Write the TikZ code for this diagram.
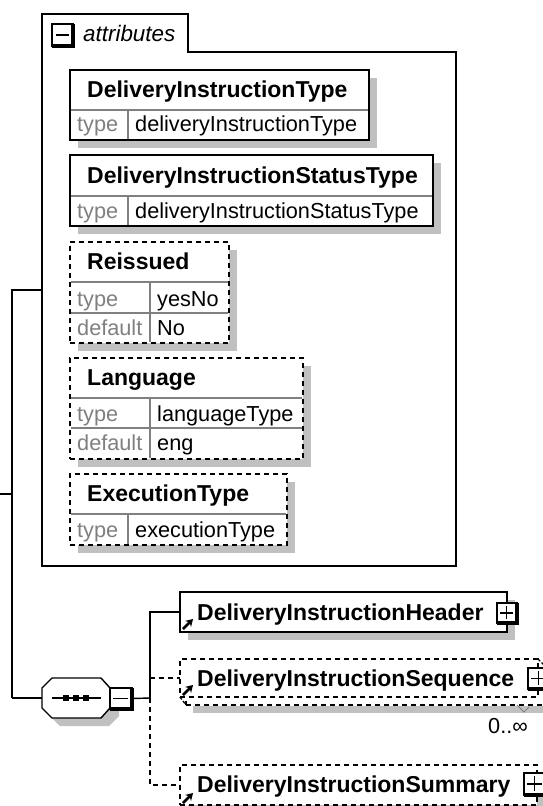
\documentclass[tikz,border=0pt]{standalone}
\usepackage{fontspec}
\setmainfont{Liberation Sans}
\usetikzlibrary{shadows,arrows.meta}
\definecolor{shadowc}{HTML}{C0C0C0}
\definecolor{gridc}{HTML}{808080}
\tikzset{
  x=1pt,y=-1pt,
  ln/.style={line width=1.4pt,black},
  dsh/.style={line width=1.4pt,black,dash pattern=on 5pt off 4pt},
  shad/.style={drop shadow={shadow xshift=8pt,shadow yshift=-8pt,fill=shadowc,opacity=1}},
  base/.style={anchor=north west,inner sep=0pt,outer sep=0pt,fill=white,shad},
  solidbox/.style={base,draw,line width=1.4pt},
  dashbox/.style={base,draw,line width=1.4pt,dash pattern=on 5pt off 4pt},
  grid/.style={line width=1.1pt,gridc},
  title/.style={anchor=base west,inner sep=0pt,font=\fontsize{23}{24}\selectfont\bfseries},
  val/.style={anchor=base west,inner sep=0pt,font=\fontsize{21.7}{24}\selectfont},
  key/.style={val,text=gridc},
  togglebox/.style={anchor=north west,inner sep=0pt,outer sep=0pt,fill=white,draw,line width=1.4pt},
  refarrow/.style={line width=2.6pt,-{Stealth[length=7pt,width=8.5pt]}},
}
\begin{document}
\begin{tikzpicture}
\fill[white] (0,0) rectangle (543,806);
\clip (0,0) rectangle (543,806);
% attributes frame
\draw[ln,fill=white] (42,14) -- (188,14) -- (188,52) -- (456,52) -- (456,566) -- (42,566) -- cycle;
\coordinate (attrw) at (42,290);
\coordinate (leftjoin) at (12,494);
\coordinate (leftbot) at (12,698);
\coordinate (leftedge) at (0,494);
\node[togglebox,minimum width=21pt,minimum height=22pt] (attrtoggle) at (52,24) {};
\draw[line width=3.2pt] (attrtoggle.north east) -- (attrtoggle.south east) -- (attrtoggle.south west);
\draw[line width=1.3pt] ([xshift=4pt]attrtoggle.west) -- ([xshift=-4pt]attrtoggle.east);
\node[anchor=base west,inner sep=0pt,font=\fontsize{22.4}{24}\selectfont\itshape] (attrlabel) at (83,41) {attributes};
% attribute 1
\node[solidbox,minimum width=299pt,minimum height=70pt] (a1) at (70,70) {};
\draw[grid] (71,110) -- (368,110) (128,110) -- (128,139);
\node[title] (a1t) at (87,97) {DeliveryInstructionType};
\node[key] (a1k) at (77,131) {type};
\node[val] (a1v) at (135,131) {deliveryInstructionType};
% attribute 2
\node[solidbox,minimum width=363pt,minimum height=71pt] (a2) at (70,155) {};
\draw[grid] (71,196) -- (432,196) (128,196) -- (128,225);
\node[title] (a2t) at (87,183) {DeliveryInstructionStatusType};
\node[key] (a2k) at (77,218) {type};
\node[val] (a2v) at (135,218) {deliveryInstructionStatusType};
% Reissued
\node[dashbox,minimum width=159pt,minimum height=101pt] (a3) at (70,242) {};
\draw[grid] (71,282) -- (228,282) (71,313) -- (228,313) (150,282) -- (150,342);
\node[title] (a3t) at (87,269) {Reissued};
\node[key] (a3k) at (77,306) {type};
\node[val] (a3v) at (157,306) {yesNo};
\node[key] (a3k2) at (77,335) {default};
\node[val] (a3v2) at (157,335) {No};
% Language
\node[dashbox,minimum width=233pt,minimum height=101pt] (a4) at (70,358) {};
\draw[grid] (71,398) -- (302,398) (71,428) -- (302,428) (150,398) -- (150,458);
\node[title] (a4t) at (87,385) {Language};
\node[key] (a4k) at (77,421) {type};
\node[val] (a4v) at (157,421) {languageType};
\node[key] (a4k2) at (77,450) {default};
\node[val] (a4v2) at (157,450) {eng};
% ExecutionType
\node[dashbox,minimum width=217pt,minimum height=71pt] (a5) at (70,474) {};
\draw[grid] (71,514) -- (286,514) (128,514) -- (128,544);
\node[title] (a5t) at (87,501) {ExecutionType};
\node[key] (a5k) at (77,537) {type};
\node[val] (a5v) at (135,537) {executionType};
% left connectors
\draw[ln] (attrw) -- (attrw -| leftjoin) -- (leftbot);
\draw[ln] (leftedge) -- (leftjoin);
% sequence compositor
\fill[shadowc] (50,688) -- (60,686) -- (109,686) -- (119,696) -- (119,716) -- (109,726) -- (60,726) -- (50,716) -- cycle;
\draw[ln,fill=white] (42,688) -- (52,678) -- (101,678) -- (110,688) -- (110,708) -- (101,718) -- (52,718) -- (42,708) -- cycle;
\node[inner sep=0pt,minimum width=68pt,minimum height=40pt] (seq) at (76,698) {};
\draw[ln] (leftbot) -- (seq.west);
\draw[line width=1.2pt] (52,698) -- (101,698);
\foreach \px in {66,76,86} \fill (\px-2.7,695.3) rectangle (\px+2.7,700.7);
\node[togglebox,minimum width=22pt,minimum height=21pt] (seqtoggle) at (110,688) {};
\draw[line width=3.6pt] (seqtoggle.north east) -- (seqtoggle.south east) -- (seqtoggle.south west);
\draw[line width=1.2pt] ([xshift=3pt]seqtoggle.west) -- ([xshift=-4pt]seqtoggle.east);
\coordinate (fork) at (150,698);
\draw[ln] (seqtoggle.east) -- (fork);
% children
\node[solidbox,minimum width=327pt,minimum height=40pt] (hdr) at (180,592) {};
\fill[shadowc] (193,706) rectangle (546,713);
\node[anchor=north west,inner sep=0pt,outer sep=0pt,fill=white,draw,line width=1.3pt,dash pattern=on 5pt off 4pt,minimum width=360pt,minimum height=38pt] (seqbox) at (186,667) {};
\node[anchor=north west,inner sep=0pt,outer sep=0pt,fill=white,draw,line width=1.3pt,dash pattern=on 5pt off 4pt,minimum width=358pt,minimum height=38pt] (seqitem) at (180,659) {};
\draw[line width=1.3pt,dash pattern=on 3pt off 2pt] (seqitem.south west) -- (seqbox.south west);
\draw[line width=1.3pt,dash pattern=on 3pt off 2pt] (seqitem.north east) -- (seqbox.north east);
\node[dashbox,minimum width=357pt,minimum height=40pt] (sumbox) at (180,765) {};
% connectors to children
\draw[ln] (fork) -- (fork |- hdr.west) -- (hdr.west);
\draw[dsh] (fork |- seqitem.west) -- (seqitem.west);
\draw[dsh] (fork) -- (fork |- sumbox.west) -- (sumbox.west);
% child labels
\node[title] (hdrt) at (197,620) {DeliveryInstructionHeader};
\node[title] (seqt) at (197,686) {DeliveryInstructionSequence};
\node[title] (sumt) at (197,792) {DeliveryInstructionSummary};
\draw[refarrow] (183,629) -- (193,619);
\draw[refarrow] (183,695) -- (193,685);
\draw[refarrow] (183,803) -- (193,793);
% toggles
\node[togglebox,minimum width=20pt,minimum height=20pt] (hdrtoggle) at (497,603) {};
\node[togglebox,minimum width=22pt,minimum height=21pt] (seqtoggle2) at (528,668) {};
\node[togglebox,minimum width=22pt,minimum height=22pt] (sumtoggle) at (524,773) {};
\foreach \n in {hdrtoggle,seqtoggle2,sumtoggle}{
  \draw[line width=3.2pt] (\n.north east) -- (\n.south east) -- (\n.south west);
  \draw[line width=1.2pt] ([xshift=3pt]\n.west) -- ([xshift=-4pt]\n.east) ([shift={(-0.5,3)}]\n.north) -- ([shift={(-0.5,-4)}]\n.south);
}
% occurrence
\draw[gridc,line width=1pt] (517,705) -- (524,712) -- (529,707);
\node[val] (occ) at (488,733) {0..∞};
\end{tikzpicture}
\end{document}
